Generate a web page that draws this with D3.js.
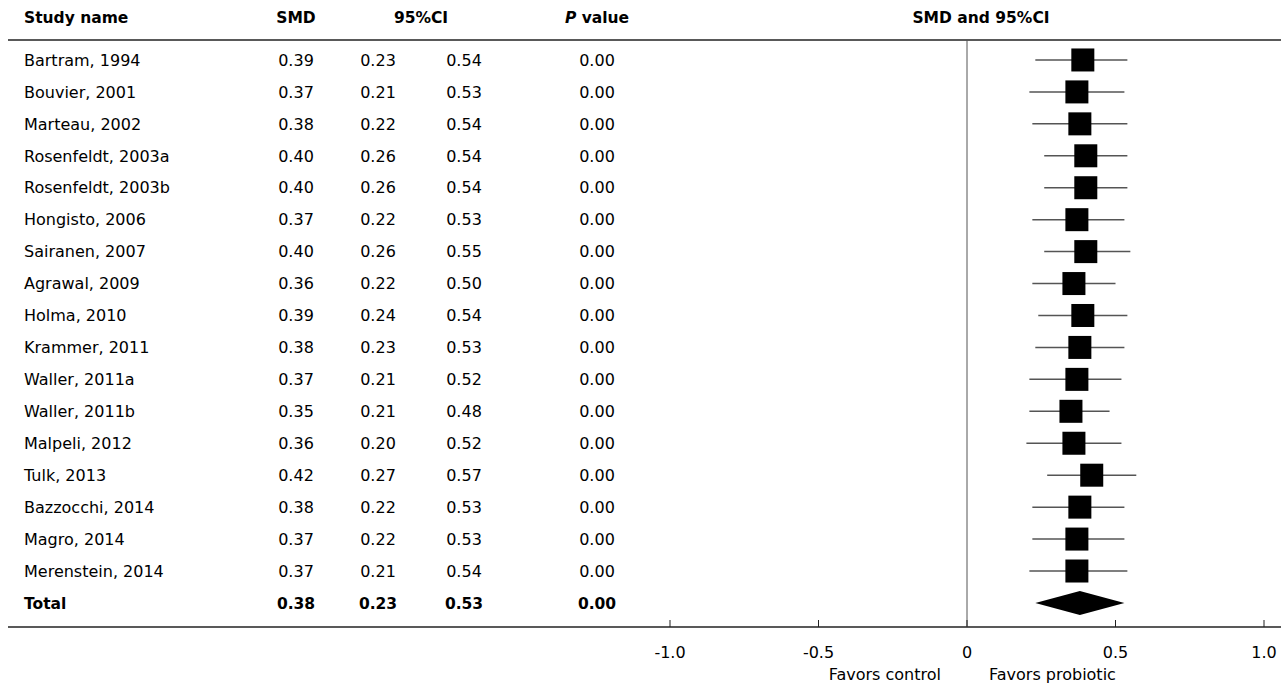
<!DOCTYPE html>
<html>
<head>
<meta charset="utf-8">
<script src="https://cdn.jsdelivr.net/npm/d3@7"></script>
<style>
  body { margin: 0; background: #fff; }
  svg text { font-family: Tahoma, "DejaVu Sans", sans-serif; font-size: 16px; fill: #000; }
  svg text.bold { font-weight: bold; font-size: 15.5px; }
</style>
</head>
<body>
<div class="forSvg"></div>
<script>
// -DATA-
const studies = ["Bartram, 1994", "Bouvier, 2001", "Marteau, 2002", "Rosenfeldt, 2003a", "Rosenfeldt, 2003b",
  "Hongisto, 2006", "Sairanen, 2007", "Agrawal, 2009", "Holma, 2010", "Krammer, 2011", "Waller, 2011a",
  "Waller, 2011b", "Malpeli, 2012", "Tulk, 2013", "Bazzocchi, 2014", "Magro, 2014", "Merenstein, 2014"];
const smd   = [0.39, 0.37, 0.38, 0.40, 0.40, 0.37, 0.40, 0.36, 0.39, 0.38, 0.37, 0.35, 0.36, 0.42, 0.38, 0.37, 0.37];
const lower = [0.23, 0.21, 0.22, 0.26, 0.26, 0.22, 0.26, 0.22, 0.24, 0.23, 0.21, 0.21, 0.20, 0.27, 0.22, 0.22, 0.21];
const upper = [0.54, 0.53, 0.54, 0.54, 0.54, 0.53, 0.55, 0.50, 0.54, 0.53, 0.52, 0.48, 0.52, 0.57, 0.53, 0.53, 0.54];
const pval  = [0.00, 0.00, 0.00, 0.00, 0.00, 0.00, 0.00, 0.00, 0.00, 0.00, 0.00, 0.00, 0.00, 0.00, 0.00, 0.00, 0.00];
const total = { name: "Total", smd: 0.38, lower: 0.23, upper: 0.53, p: 0.00 };
const xTicks = [-1.0, -0.5, 0, 0.5, 1.0];
const tickLabels = ["-1.0", "-0.5", "0", "0.5", "1.0"];

// -SIZES-
const svg_w = 1281, svg_h = 684;
const headerLine = 40, axisY = 627;
const colName = 24, colSmd = 296, colLo = 378, colHi = 464, colP = 597;

const rows = studies.map((s, i) => ({ name: s, smd: smd[i], lower: lower[i], upper: upper[i], p: pval[i] }));

// scales
const x = d3.scaleLinear().domain([-1, 1]).range([670, 1264]);
const y = d3.scaleBand()
  .domain(d3.range(rows.length + 1))
  .range([44, 44 + 31.94 * (rows.length + 1)]);

const svg = d3.select(".forSvg").append("svg")
  .attr("width", svg_w)
  .attr("height", svg_h);

// header
const head = svg.append("g");
head.append("text").attr("class", "bold").attr("x", colName).attr("y", 23).text("Study name");
head.append("text").attr("class", "bold").attr("x", colSmd).attr("y", 23).attr("text-anchor", "middle").text("SMD");
head.append("text").attr("class", "bold").attr("x", (colLo + colHi) / 2).attr("y", 23).attr("text-anchor", "middle").text("95%CI");
const pHead = head.append("text").attr("class", "bold").attr("x", colP).attr("y", 23).attr("text-anchor", "middle");
pHead.append("tspan").attr("font-style", "italic").text("P");
pHead.append("tspan").text(" value");
head.append("text").attr("class", "bold").attr("x", 981).attr("y", 23).attr("text-anchor", "middle").text("SMD and 95%CI");

// rule lines
svg.append("line").attr("x1", 8).attr("x2", svg_w).attr("y1", headerLine).attr("y2", headerLine)
  .attr("stroke", "#222").attr("stroke-width", 1.3);
svg.append("line").attr("x1", 8).attr("x2", svg_w).attr("y1", axisY).attr("y2", axisY)
  .attr("stroke", "#222").attr("stroke-width", 1.3);

// zero line
svg.append("line").attr("x1", x(0)).attr("x2", x(0)).attr("y1", headerLine).attr("y2", axisY)
  .attr("stroke", "#555").attr("stroke-width", 1);

// table rows
const fmt = d3.format(".2f");
const allRows = rows.concat([total]);
const rowG = svg.selectAll("g.row")
  .data(allRows)
  .enter()
  .append("g")
  .attr("class", "row")
  .attr("transform", (d, i) => "translate(0," + (y(i) + y.bandwidth() / 2) + ")");

rowG.append("text").attr("class", d => d === total ? "bold" : null)
  .attr("x", colName).attr("dy", "0.36em").text(d => d.name);
[["smd", colSmd], ["lower", colLo], ["upper", colHi], ["p", colP]].forEach(([k, cx]) => {
  rowG.append("text").attr("class", d => d === total ? "bold" : null)
    .attr("x", cx).attr("dy", "0.36em").attr("text-anchor", "middle")
    .text(d => fmt(d[k]));
});

// CI lines and squares
const studyG = rowG.filter(d => d !== total);
studyG.append("line")
  .attr("x1", d => x(d.lower)).attr("x2", d => x(d.upper))
  .attr("stroke", "#555").attr("stroke-width", 1.5);
const sq = 23;
studyG.append("rect")
  .attr("x", d => x(d.smd) - sq / 2).attr("y", -sq / 2)
  .attr("width", sq).attr("height", sq)
  .attr("fill", "#000");

// diamond
rowG.filter(d => d === total).append("path")
  .attr("d", d => "M" + x(d.lower) + ",0L" + x(d.smd) + ",-12L" + x(d.upper) + ",0L" + x(d.smd) + ",12Z")
  .attr("fill", "#000");

// axis ticks (upward)
svg.selectAll("line.tick").data(xTicks).enter().append("line")
  .attr("class", "tick")
  .attr("x1", d => x(d)).attr("x2", d => x(d))
  .attr("y1", axisY).attr("y2", axisY - 7)
  .attr("stroke", "#222").attr("stroke-width", 1);
svg.selectAll("text.tickLabel").data(xTicks).enter().append("text")
  .attr("class", "tickLabel")
  .attr("x", d => x(d)).attr("y", 658)
  .attr("text-anchor", "middle")
  .text((d, i) => tickLabels[i]);

svg.append("text").attr("x", x(0) - 26).attr("y", 680).attr("text-anchor", "end").text("Favors control");
svg.append("text").attr("x", x(0) + 22).attr("y", 680).text("Favors probiotic");
</script>
</body>
</html>
